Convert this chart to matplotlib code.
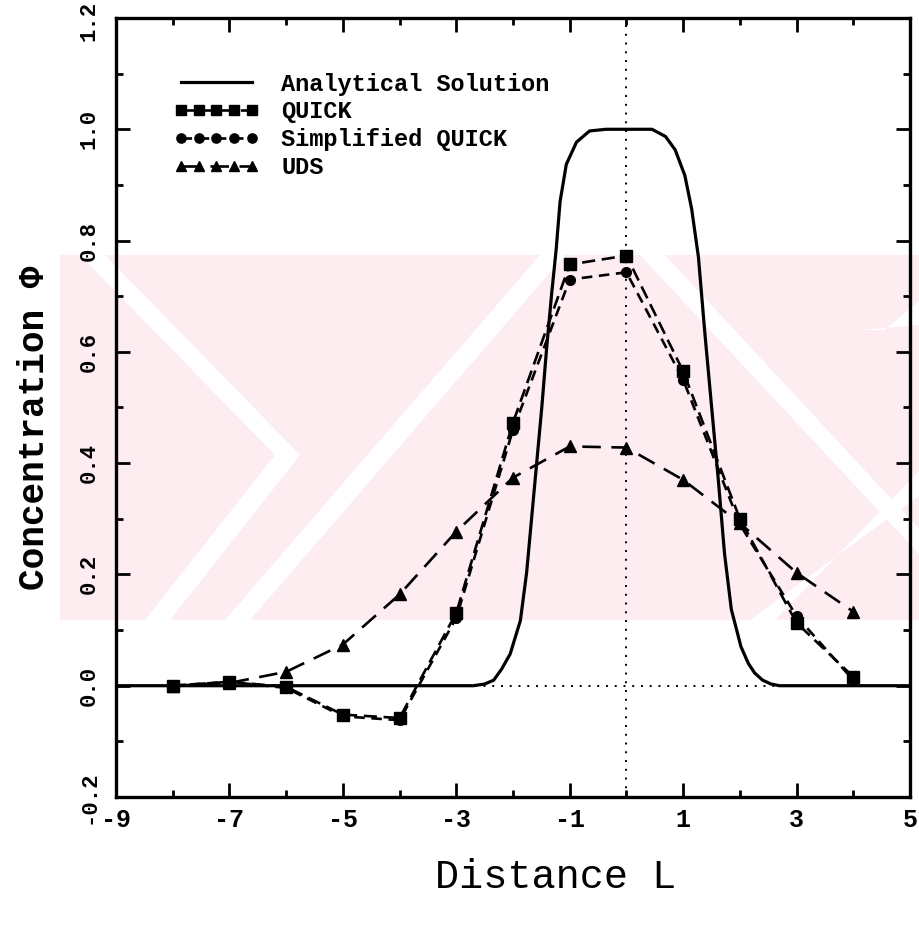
import matplotlib
matplotlib.use('Agg')
import matplotlib.pyplot as plt
from matplotlib.ticker import MultipleLocator
from matplotlib.patches import Polygon, Rectangle
from matplotlib.transforms import ScaledTranslation

# ---- data ----
x_nodes = [-8, -7, -6, -5, -4, -3, -2, -1, 0, 1, 2, 3, 4]
quick = [0.0, 0.007, -0.002, -0.052, -0.058, 0.131, 0.473, 0.757, 0.773, 0.565, 0.300, 0.113, 0.016]
simp_quick = [0.0, 0.007, -0.004, -0.055, -0.062, 0.122, 0.460, 0.730, 0.743, 0.550, 0.290, 0.125, 0.010]
uds = [0.0, 0.005, 0.025, 0.074, 0.164, 0.277, 0.374, 0.430, 0.428, 0.370, 0.292, 0.203, 0.133]

ana_x = [-9, -2.7, -2.5, -2.34, -2.2, -2.05, -1.87, -1.76, -1.67, -1.58, -1.49, -1.41, -1.32,
         -1.24, -1.17, -1.06, -0.88, -0.65, -0.36, 0.45, 0.69, 0.86, 1.03, 1.15, 1.27, 1.38,
         1.50, 1.62, 1.73, 1.85, 2.02, 2.15, 2.26, 2.4, 2.55, 2.7, 5]
ana_y = [0, 0, 0.003, 0.01, 0.03, 0.057, 0.117, 0.203, 0.303, 0.403, 0.503, 0.603, 0.703,
         0.783, 0.87, 0.937, 0.977, 0.997, 1.0, 1.0, 0.987, 0.963, 0.917, 0.857, 0.77, 0.637,
         0.503, 0.37, 0.237, 0.137, 0.07, 0.04, 0.023, 0.01, 0.003, 0, 0]

series_labels = ['Analytical Solution', 'QUICK', 'Simplified QUICK', 'UDS']
x_ticks = [-9, -7, -5, -3, -1, 1, 3, 5]
y_ticks = [-0.2, 0.0, 0.2, 0.4, 0.6, 0.8, 1.0, 1.2]

plt.rcParams['font.family'] = ['Liberation Mono', 'DejaVu Sans Mono']

W, H = 920, 925
fig = plt.figure(figsize=(W / 100, H / 100), dpi=100)

# faint pink watermark behind the plot (decoration from the scanned page)
pink = '#fdedf0'
def fp(pts):
    return [(px / W, 1 - py / H) for px, py in pts]
fig.patches.append(Rectangle((60 / W, 1 - 620 / H), 860 / W, 365 / H,
                             transform=fig.transFigure, facecolor=pink, edgecolor='none', zorder=-5))
for pts in [
    [(80, 255), (105, 255), (300, 455), (275, 455)],
    [(275, 455), (300, 455), (170, 620), (145, 620)],
    [(540, 255), (565, 255), (250, 620), (225, 620)],
    [(640, 255), (665, 255), (920, 530), (920, 555)],
    [(860, 330), (885, 330), (920, 300), (920, 325)],
    [(750, 620), (775, 620), (920, 470), (920, 495)],
]:
    fig.patches.append(Polygon(fp(pts), closed=True, transform=fig.transFigure,
                               facecolor='white', edgecolor='none', zorder=-4))

ax = fig.add_axes([116 / W, 1 - 797 / H, (910 - 116) / W, (797 - 18) / H])
ax.set_facecolor('none')

ax.axvline(0, color='black', lw=1.4, ls=(0, (1, 3.5)), zorder=1)
ax.axhline(0, color='black', lw=1.4, ls=(0, (1, 3.5)), zorder=1)

ax.plot(ana_x, ana_y, color='black', lw=2.3, label=series_labels[0], zorder=3)
ax.plot(x_nodes, quick, color='black', lw=1.9, dashes=(5, 2.5), marker='s', ms=8,
        mfc='black', mec='black', label=series_labels[1], zorder=4)
ax.plot(x_nodes, simp_quick, color='black', lw=1.9, dashes=(4, 2.5), marker='o', ms=7,
        mfc='black', mec='black', label=series_labels[2], zorder=4)
ax.plot(x_nodes, uds, color='black', lw=1.9, dashes=(7, 4), marker='^', ms=8,
        mfc='black', mec='black', label=series_labels[3], zorder=4)

ax.set_xlim(-9, 5)
ax.set_ylim(-0.2, 1.2)
ax.set_xticks(x_ticks)
ax.set_yticks(y_ticks)
ax.xaxis.set_minor_locator(MultipleLocator(1))
ax.yaxis.set_minor_locator(MultipleLocator(0.1))
ax.tick_params(which='both', direction='in', top=True, right=True, width=2.0, colors='black')
ax.tick_params(which='major', length=10)
ax.tick_params(which='minor', length=5)
ax.tick_params(axis='x', which='major', pad=8)
ax.tick_params(axis='y', which='major', pad=12)
ax.set_xticklabels([f'{v:d}' for v in x_ticks], fontsize=18, fontweight='bold')
ax.set_yticklabels([f'{v:.1f}' for v in y_ticks], fontsize=16, fontweight='bold',
                   rotation=90, va='center')
# keep the top label inside the canvas
top_lab = ax.yaxis.get_majorticklabels()[-1]
top_lab.set_transform(top_lab.get_transform() + ScaledTranslation(0, -3 / 100, fig.dpi_scale_trans))
for s in ax.spines.values():
    s.set_linewidth(2.4)

ax.set_xlabel('Distance L', fontsize=29, va='top')
ax.xaxis.set_label_coords((556 - 116) / 794, (797 - 858) / 779)
ax.set_ylabel('Concentration Φ', fontsize=26, fontweight='bold')
ax.yaxis.set_label_coords((52 - 116) / 794, (797 - 428) / 779)

leg = ax.legend(loc='upper left', bbox_to_anchor=(0.058, 0.945), frameon=False,
                prop={'weight': 'bold', 'size': 17}, numpoints=5,
                handlelength=3.6, handletextpad=0.95, labelspacing=0.2, borderpad=0,
                markerscale=0.95)

fig.savefig('out.png', dpi=100)
